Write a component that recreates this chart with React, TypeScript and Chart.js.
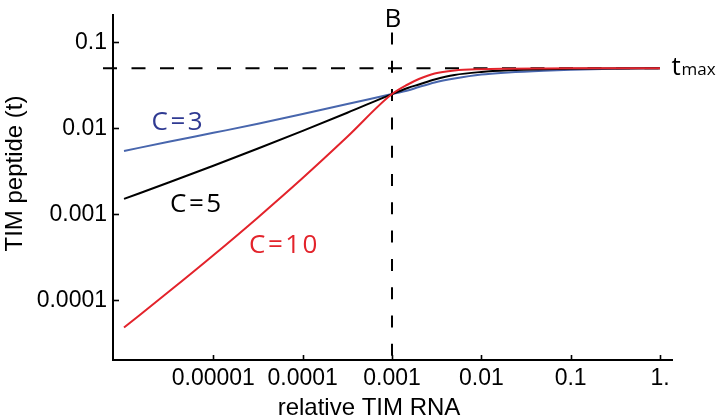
import React, { useEffect, useRef } from "react";
import { Chart, registerables } from "chart.js";

Chart.register(...registerables);

// relative TIM RNA (x) sampled along the curves
const rnaLevels = [1e-6, 3.16e-6, 1e-5, 3.16e-5, 1e-4, 3.16e-4, 1e-3, 1.5e-3, 2e-3, 3e-3, 5e-3, 1e-2, 2e-2, 5e-2, 0.1, 0.3, 1];
// TIM peptide (t)
const peptideC3 = [0.00545, 0.00697, 0.00885, 0.01127, 0.01469, 0.0192, 0.025, 0.0275, 0.0302, 0.0341, 0.0379, 0.0422, 0.0446, 0.0468, 0.048, 0.0492, 0.05];
const peptideC5 = [0.00151, 0.00234, 0.00367, 0.00582, 0.00933, 0.01514, 0.025, 0.0294, 0.0323, 0.0369, 0.0417, 0.0452, 0.0472, 0.0487, 0.0493, 0.0497, 0.05];
const peptideC10 = [4.82e-5, 1.253e-4, 3.34e-4, 9.2e-4, 0.00264, 0.00796, 0.025, 0.0323, 0.0374, 0.0434, 0.047, 0.0487, 0.0493, 0.0497, 0.0499, 0.05, 0.05];

const xTickValues = [1e-5, 1e-4, 1e-3, 1e-2, 1e-1, 1];
const xTickLabels = ["0.00001", "0.0001", "0.001", "0.01", "0.1", "1."];
const yTickValues = [1e-4, 1e-3, 1e-2, 1e-1];
const yTickLabels = ["0.0001", "0.001", "0.01", "0.1"];

const T_MAX = 0.05;
const B_LEVEL = 0.001;
const B_LINE_TOP = 0.13;
const X_RANGE = [7.53e-7, 1.387];
const Y_RANGE = [2.02e-5, 0.2077];

const xTitle = "relative TIM RNA";
const yTitle = "TIM peptide (t)";
const curveNames = ["C=3", "C=5", "C=10"];

const BLUE_LINE = "#4866ad";
const BLUE_TEXT = "#2f3a92";
const RED = "#e3232b";
const BLACK = "#000000";

const TICK_FONT = "'Liberation Sans', Arial, sans-serif";
const NOTE_FONT = "'Open Sans', sans-serif";

function pts(ys: number[]) {
  return rnaLevels.map((x, i) => ({ x, y: ys[i] }));
}

const overlayPlugin = {
  id: "overlay",
  beforeDatasetsDraw(chart: any) {
    const { ctx, chartArea, scales } = chart;
    const xs = scales.x;
    const ys = scales.y;
    ctx.save();
    ctx.strokeStyle = BLACK;
    ctx.lineWidth = 2;
    // t_max dashed line
    const yT = ys.getPixelForValue(T_MAX);
    ctx.setLineDash([14, 14.5]);
    ctx.beginPath();
    ctx.moveTo(chartArea.left - 10, yT);
    ctx.lineTo(xs.getPixelForValue(1), yT);
    ctx.stroke();
    // B dashed line
    const xB = xs.getPixelForValue(B_LEVEL);
    ctx.setLineDash([12, 16.3]);
    ctx.beginPath();
    ctx.moveTo(xB, ys.getPixelForValue(B_LINE_TOP));
    ctx.lineTo(xB, chartArea.bottom);
    ctx.stroke();
    ctx.restore();
  },
  afterDraw(chart: any) {
    const { ctx, chartArea, scales } = chart;
    const xs = scales.x;
    const ys = scales.y;
    ctx.save();
    // inward tick marks
    ctx.strokeStyle = BLACK;
    ctx.lineWidth = 1.6;
    ctx.setLineDash([]);
    xTickValues.forEach((v) => {
      const px = Math.round(xs.getPixelForValue(v)) + 0.5;
      ctx.beginPath();
      ctx.moveTo(px, chartArea.bottom);
      ctx.lineTo(px, chartArea.bottom - 5);
      ctx.stroke();
    });
    yTickValues.forEach((v) => {
      const py = Math.round(ys.getPixelForValue(v)) + 0.5;
      ctx.beginPath();
      ctx.moveTo(chartArea.left, py);
      ctx.lineTo(chartArea.left + 6, py);
      ctx.stroke();
    });

    // axis titles
    ctx.fillStyle = BLACK;
    ctx.font = `24px ${TICK_FONT}`;
    ctx.textAlign = "center";
    ctx.textBaseline = "alphabetic";
    ctx.fillText(xTitle, chartArea.left + 256, 415);
    ctx.save();
    ctx.translate(21.5, 173.5);
    ctx.rotate(-Math.PI / 2);
    ctx.fillText(yTitle, 0, 0);
    ctx.restore();

    // curve annotations
    ctx.textAlign = "left";
    ctx.font = `26px ${NOTE_FONT}`;
    try { (ctx as any).letterSpacing = "2.5px"; } catch (e) {}
    ctx.fillStyle = BLUE_TEXT;
    ctx.fillText(curveNames[0], 151.5, 130);
    ctx.fillStyle = BLACK;
    ctx.fillText(curveNames[1], 170, 211.5);
    ctx.fillStyle = RED;
    ctx.fillText(curveNames[2], 249, 253);
    try { (ctx as any).letterSpacing = "0px"; } catch (e) {}

    // B and t_max labels
    ctx.fillStyle = BLACK;
    ctx.textAlign = "center";
    ctx.font = `26px ${NOTE_FONT}`;
    ctx.fillText("B", xs.getPixelForValue(B_LEVEL) + 1, 26.5);
    ctx.textAlign = "left";
    ctx.fillText("t", 671.5, 75);
    ctx.font = `17px ${NOTE_FONT}`;
    ctx.fillText("max", 681.5, 75);
    ctx.restore();
  },
};

export default function App() {
  const canvasRef = useRef<HTMLCanvasElement | null>(null);

  useEffect(() => {
    if (!canvasRef.current) return;
    const lineDs = (label: string, ys: number[], color: string) => ({
      label,
      data: pts(ys),
      borderColor: color,
      backgroundColor: color,
      borderWidth: 2,
      pointRadius: 0,
      cubicInterpolationMode: "monotone" as const,
      fill: false,
    });
    const chart = new Chart(canvasRef.current, {
      type: "line",
      data: {
        datasets: [
          lineDs(curveNames[2], peptideC10, RED),
          lineDs(curveNames[1], peptideC5, BLACK),
          lineDs(curveNames[0], peptideC3, BLUE_LINE),
        ],
      },
      options: {
        responsive: false,
        maintainAspectRatio: false,
        animation: false,
        devicePixelRatio: 1,
        layout: { padding: { left: 0, top: 15, right: 49.3, bottom: 0 } },
        plugins: {
          legend: { display: false },
          tooltip: { enabled: false },
        },
        scales: {
          x: {
            type: "logarithmic",
            position: "bottom",
            min: X_RANGE[0],
            max: X_RANGE[1],
            afterBuildTicks: (scale: any) => {
              scale.ticks = xTickValues.map((v) => ({ value: v }));
            },
            afterFit: (scale: any) => {
              scale.height = 60;
              scale.paddingLeft = 0;
              scale.paddingRight = 0;
              scale.paddingTop = 0;
              scale.paddingBottom = 0;
            },
            grid: { display: true, drawOnChartArea: false, drawTicks: false },
            border: { display: true, color: BLACK, width: 2 },
            ticks: {
              autoSkip: false,
              maxRotation: 0,
              minRotation: 0,
              padding: 5,
              color: BLACK,
              font: { family: TICK_FONT, size: 23 },
              callback: (_v: any, i: number) => xTickLabels[i],
            },
            title: { display: false },
          },
          y: {
            type: "logarithmic",
            position: "left",
            min: Y_RANGE[0],
            max: Y_RANGE[1],
            afterBuildTicks: (scale: any) => {
              scale.ticks = yTickValues.map((v) => ({ value: v }));
            },
            afterFit: (scale: any) => {
              scale.width = 113;
              scale.paddingLeft = 0;
              scale.paddingRight = 0;
              scale.paddingTop = 0;
              scale.paddingBottom = 0;
            },
            grid: { display: true, drawOnChartArea: false, drawTicks: false },
            border: { display: true, color: BLACK, width: 2 },
            ticks: {
              autoSkip: false,
              padding: 6,
              color: BLACK,
              font: { family: TICK_FONT, size: 23 },
              callback: (_v: any, i: number) => yTickLabels[i],
            },
            title: { display: false },
          },
        },
      },
      plugins: [overlayPlugin],
    } as any);
    return () => chart.destroy();
  }, []);

  return (
    <div style={{ position: "absolute", left: 0, top: 0, width: 722, height: 420, background: "#fff" }}>
      <canvas ref={canvasRef} width={722} height={420} style={{ width: 722, height: 420 }} />
    </div>
  );
}
